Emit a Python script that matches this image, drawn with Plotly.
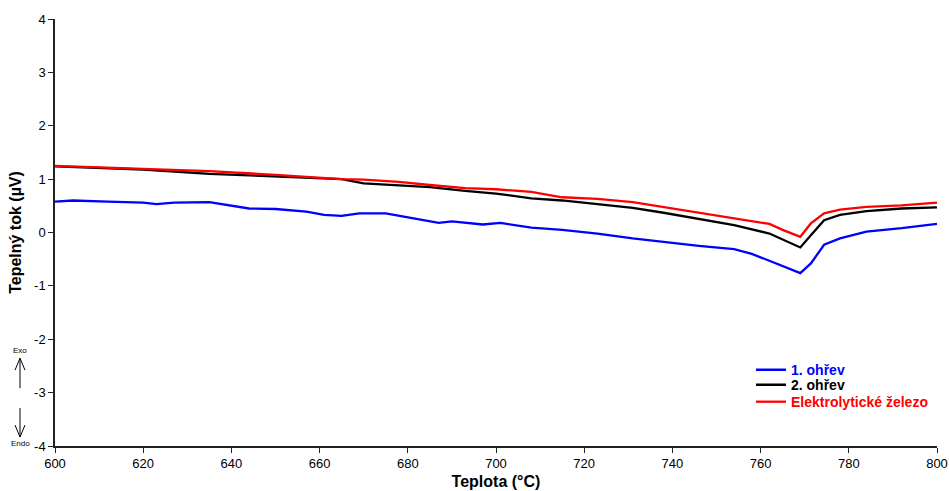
import plotly.graph_objects as go

# 1. ohřev (blue)
x_blue = [600, 604, 612, 620, 623, 627, 635, 638, 644, 650, 657, 661, 665, 669, 675, 681, 687, 690, 697, 701,
          708, 715, 723, 731, 738, 746, 754, 758, 762, 765, 769, 771.4, 774.4, 778, 784, 792, 800]
y_blue = [0.58, 0.60, 0.58, 0.56, 0.53, 0.56, 0.57, 0.53, 0.45, 0.44, 0.39, 0.33, 0.31, 0.36, 0.36, 0.27, 0.18, 0.21, 0.15, 0.18,
          0.09, 0.05, -0.02, -0.11, -0.18, -0.25, -0.31, -0.40, -0.53, -0.63, -0.76, -0.58, -0.23, -0.11, 0.015, 0.08, 0.16]

# 2. ohřev (black)
x_black = [600, 620, 635, 650, 665, 670, 678, 685, 693, 700, 708, 715, 723, 731, 738, 746, 754, 762, 765, 769,
           771.4, 774.4, 778, 784, 792, 800]
y_black = [1.24, 1.18, 1.10, 1.05, 1.00, 0.92, 0.89, 0.85, 0.78, 0.73, 0.64, 0.60, 0.53, 0.46, 0.37, 0.26, 0.14, -0.02, -0.13, -0.28,
           -0.05, 0.23, 0.33, 0.40, 0.45, 0.47]

# Elektrolytické železo (red)
x_red = [600, 610, 620, 635, 650, 665, 670, 678, 685, 693, 700, 708, 715, 723, 731, 738, 746, 754, 762, 765, 769,
         771.4, 774.4, 778, 784, 792, 800]
y_red = [1.25, 1.22, 1.20, 1.15, 1.08, 1.00, 0.99, 0.95, 0.89, 0.83, 0.81, 0.76, 0.66, 0.63, 0.57, 0.48, 0.37, 0.27, 0.16, 0.05, -0.08,
         0.17, 0.36, 0.43, 0.48, 0.51, 0.56]

series_names = ["1. ohřev", "2. ohřev", "Elektrolytické železo"]
series_colors = ["#0000ff", "#000000", "#ff0000"]

x_ticks = [600, 620, 640, 660, 680, 700, 720, 740, 760, 780, 800]
y_ticks = [-4, -3, -2, -1, 0, 1, 2, 3, 4]
y_ticktext = ["-4", "-3", "-2", "-1", "0", "1", "2", "3", "4"]

FONT = "Liberation Sans, Arial, sans-serif"

fig = go.Figure()
data = [(x_blue, y_blue), (x_black, y_black), (x_red, y_red)]
legend_ids = ["legend", "legend2", "legend3"]
for (xs, ys), nm, col, lg in zip(data, series_names, series_colors, legend_ids):
    fig.add_trace(go.Scatter(x=xs, y=ys, mode="lines", line=dict(color=col, width=2.3),
                             name=f"<b><span style='color:{col}'>{nm}</span></b>", legend=lg))

axis_common = dict(showgrid=False, zeroline=False, showline=True, linecolor="#222222", linewidth=1.5,
                   ticks="outside", ticklen=5, tickcolor="#222222", tickwidth=1.2, automargin=False,
                   tickfont=dict(family=FONT, size=13, color="#000000"))

leg_common = dict(xanchor="left", yanchor="middle", bgcolor="rgba(0,0,0,0)",
                  font=dict(family=FONT, size=14), itemwidth=30)
leg_x = (751 - 55) / 882
fig.update_layout(
    width=949, height=491,
    paper_bgcolor="white", plot_bgcolor="white",
    margin=dict(l=55, r=12, t=19, b=45),
    font=dict(family=FONT, color="#000000"),
    xaxis=dict(range=[600, 800], tickvals=x_ticks,
               title=dict(text="<b>Teplota (°C)</b>", font=dict(size=16), standoff=5), **axis_common),
    yaxis=dict(range=[-4, 4], tickvals=y_ticks, ticktext=y_ticktext,
               title=dict(text="<b>Tepelný tok (µV)</b>", font=dict(size=16), standoff=8), **axis_common),
    legend=dict(x=leg_x, y=0.1776, **leg_common),
    legend2=dict(x=leg_x, y=0.1425, **leg_common),
    legend3=dict(x=leg_x, y=0.1028, **leg_common),
    showlegend=True,
)

# Exo / Endo labels with open arrows (paper coordinates, outside plot area)
ax_x = (20 - 55) / 882
dx = 5 / 882
fig.add_annotation(x=ax_x, xref="paper", y=0.2243, yref="paper", text="Exo", showarrow=False,
                   font=dict(size=8, family=FONT), xanchor="center", yanchor="middle")
fig.add_annotation(x=ax_x, xref="paper", y=0.0070, yref="paper", text="Endo", showarrow=False,
                   font=dict(size=8, family=FONT), xanchor="center", yanchor="middle")
line_style = dict(color="#000000", width=1)
# up arrow
fig.add_shape(type="line", xref="paper", yref="paper", x0=ax_x, x1=ax_x, y0=0.1355, y1=0.2056, line=line_style)
fig.add_shape(type="line", xref="paper", yref="paper", x0=ax_x - dx, x1=ax_x, y0=0.1776, y1=0.2056, line=line_style)
fig.add_shape(type="line", xref="paper", yref="paper", x0=ax_x + dx, x1=ax_x, y0=0.1776, y1=0.2056, line=line_style)
# down arrow
fig.add_shape(type="line", xref="paper", yref="paper", x0=ax_x, x1=ax_x, y0=0.0888, y1=0.0210, line=line_style)
fig.add_shape(type="line", xref="paper", yref="paper", x0=ax_x - dx, x1=ax_x, y0=0.0491, y1=0.0210, line=line_style)
fig.add_shape(type="line", xref="paper", yref="paper", x0=ax_x + dx, x1=ax_x, y0=0.0491, y1=0.0210, line=line_style)

fig.write_html("out.html", config={"displayModeBar": False},
               post_script="document.body.style.margin='0';document.body.style.overflow='hidden';")
